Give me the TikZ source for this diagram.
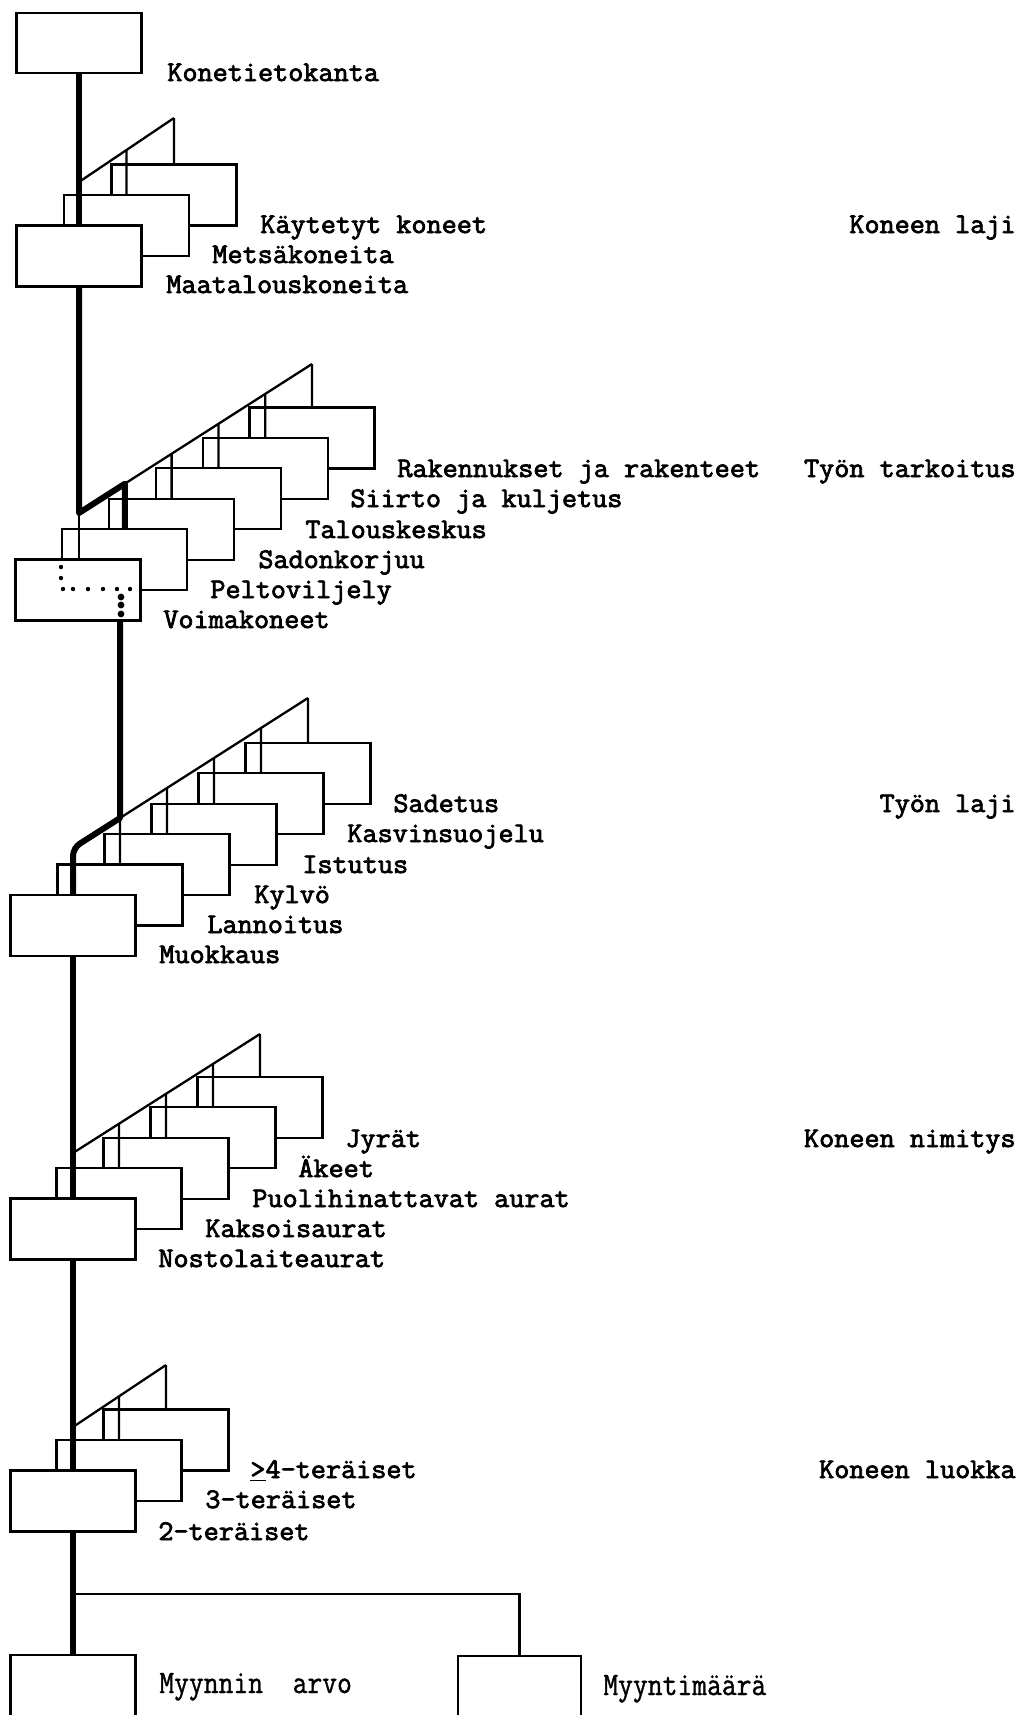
\documentclass[tikz,border=0pt]{standalone}
\usepackage{fontspec}
\newfontfamily\twfont{Latin Modern Mono}[AutoFakeBold=2.6]
\newfontfamily\ftfont{Latin Modern Mono}[AutoFakeBold=1.2]
\newcommand\tx[1]{\scalebox{1}[0.97]{#1}}
\newcommand\ftx[1]{\scalebox{0.98}[1.12]{#1}}
\tikzset{
  card/.style={draw, fill=white, line width=1.15pt, minimum width=62.5pt, minimum height=30.5pt, inner sep=0pt, outer sep=0pt},
  wire/.style={line width=1.15pt},
  spine/.style={line width=3pt, line join=round},
  lab/.style={font=\twfont\bfseries\fontsize{14.67pt}{16pt}\selectfont, inner sep=0pt, anchor=base west},
  head/.style={lab, anchor=base east},
  foot/.style={font=\ftfont\bfseries\fontsize{14.67pt}{16pt}\selectfont, inner sep=0pt, anchor=base west}
}
\newcommand\hang[2]{\draw[wire] (#1.north) -- (intersection of #1.north--#1.south and #2a--#2b);}
\begin{document}
\begin{tikzpicture}[x=0.5pt,y=0.5pt]
\useasboundingbox (0,0) rectangle (1023,-1715);
\clip (0,0) rectangle (1023,-1715);

% ---------- top ----------
\node[card, minimum height=30pt] (top) at (79,-43) {};
\node[lab] (ltop) at (167,-81) {\tx{Konetietokanta}};

% ---------- group 1 : Koneen laji ----------
\coordinate (g1in) at (79,-225.5);
\coordinate (d1a) at (79,-182);
\coordinate (d1b) at (174,-118);
\draw[wire] (d1a) -- (d1b);
\node[card] (g1b3) at (174,-195) {};
\hang{g1b3}{d1}
\node[card] (g1b2) at (126.5,-225.5) {};
\hang{g1b2}{d1}
\draw[spine] (top.south) -- (g1in);
\node[card] (g1b1) at (79,-256) {};
\node[lab] (l13) at (260,-233) {\tx{Käytetyt koneet}};
\node[lab] (l12) at (212,-263) {\tx{Metsäkoneita}};
\node[lab] (l11) at (166,-293) {\tx{Maatalouskoneita}};
\node[head] (h1) at (1016,-233) {\tx{Koneen laji}};

% ---------- group 2 : Työn tarkoitus ----------
\coordinate (d2a) at (79,-513);
\coordinate (d2b) at (312,-364);
\coordinate (g2in) at (79,-559.75);
\draw[wire] (d2a) -- (d2b);
\node[card] (g2b6) at (312,-438) {};
\hang{g2b6}{d2}
\node[card] (g2b5) at (265.2,-468.4) {};
\hang{g2b5}{d2}
\node[card] (g2b4) at (218.4,-498.8) {};
\hang{g2b4}{d2}
\node[card] (g2b3) at (171.6,-529.2) {};
\hang{g2b3}{d2}
\node[card] (g2b2) at (124.8,-559.6) {};
\draw[spine] (g1b1.south) -- (d2a) -- (intersection of g2b2.north--g2b2.south and d2a--d2b) -- (g2b2.north);
\draw[wire] (d2a) -- (g2in);
\node[card] (g2b1) at (78,-590) {};
\foreach \p in {(61,-567),(61,-578),(63,-589),(73,-589),(88,-589),(103,-589),(117,-589),(130,-589)}
  \fill \p circle (1.1pt);
\foreach \p in {(121,-597),(121,-605),(121,-614)}
  \fill \p circle (1.7pt);
\coordinate (g2x) at (120,-620.5);
\node[lab] (l26) at (397,-477) {\tx{Rakennukset ja rakenteet}};
\node[lab] (l25) at (350,-507) {\tx{Siirto ja kuljetus}};
\node[lab] (l24) at (305,-538) {\tx{Talouskeskus}};
\node[lab] (l23) at (258,-568) {\tx{Sadonkorjuu}};
\node[lab] (l22) at (210,-598) {\tx{Peltoviljely}};
\node[lab] (l21) at (163,-628) {\tx{Voimakoneet}};
\node[head] (h2) at (1016,-477) {\tx{Työn tarkoitus}};

% ---------- group 3 : Työn laji ----------
\coordinate (d3a) at (73,-848);
\coordinate (d3b) at (308,-698);
\coordinate (g3in) at (73,-895.25);
\draw[wire] (d3a) -- (d3b);
\node[card] (g3b6) at (308,-773.4) {};
\hang{g3b6}{d3}
\node[card] (g3b5) at (261,-803.8) {};
\hang{g3b5}{d3}
\node[card] (g3b4) at (214,-834.2) {};
\hang{g3b4}{d3}
\node[card] (g3b3) at (167,-864.6) {};
\hang{g3b3}{d3}
\node[card] (g3b2) at (120,-895) {};
\coordinate (j3) at (intersection of g3b2.north--g3b2.south and d3a--d3b);
\draw[wire] (j3) -- (g3b2.north);
\draw[spine] (g2x) -- (j3) [rounded corners=4pt] -- (d3a) -- (g3in);
\node[card] (g3b1) at (73,-925.5) {};
\node[lab] (l36) at (393,-812) {\tx{Sadetus}};
\node[lab] (l35) at (347,-842) {\tx{Kasvinsuojelu}};
\node[lab] (l34) at (302,-873) {\tx{Istutus}};
\node[lab] (l33) at (254,-903) {\tx{Kylvö}};
\node[lab] (l32) at (207,-933) {\tx{Lannoitus}};
\node[lab] (l31) at (159,-963) {\tx{Muokkaus}};
\node[head] (h3) at (1016,-812) {\tx{Työn laji}};

% ---------- group 4 : Koneen nimitys ----------
\coordinate (d4a) at (73,-1153);
\coordinate (d4b) at (260,-1034);
\coordinate (g4in) at (73,-1198.75);
\draw[wire] (d4a) -- (d4b);
\node[card] (g4b5) at (260,-1107.4) {};
\hang{g4b5}{d4}
\node[card] (g4b4) at (213,-1137.8) {};
\hang{g4b4}{d4}
\node[card] (g4b3) at (166,-1168.2) {};
\hang{g4b3}{d4}
\node[card] (g4b2) at (119,-1198.6) {};
\hang{g4b2}{d4}
\draw[spine] (g3b1.south) -- (g4in);
\node[card] (g4b1) at (73,-1229) {};
\node[lab] (l45) at (345,-1147) {\tx{Jyrät}};
\node[lab] (l44) at (298,-1177) {\tx{Äkeet}};
\node[lab] (l43) at (252,-1207) {\tx{Puolihinattavat aurat}};
\node[lab] (l42) at (205,-1237) {\tx{Kaksoisaurat}};
\node[lab] (l41) at (158,-1267) {\tx{Nostolaiteaurat}};
\node[head] (h4) at (1016,-1147) {\tx{Koneen nimitys}};

% ---------- group 5 : Koneen luokka ----------
\coordinate (d5a) at (73,-1427);
\coordinate (d5b) at (166,-1365);
\coordinate (g5in) at (73,-1470.75);
\draw[wire] (d5a) -- (d5b);
\node[card] (g5b3) at (166,-1440) {};
\hang{g5b3}{d5}
\node[card] (g5b2) at (119,-1470.5) {};
\hang{g5b2}{d5}
\draw[spine] (g4b1.south) -- (g5in);
\node[card] (g5b1) at (73,-1501) {};
\node[lab] (l53) at (250,-1478) {\tx{\underline{>}4-teräiset}};
\node[lab] (l52) at (205,-1508) {\tx{3-teräiset}};
\node[lab] (l51) at (158,-1540) {\tx{2-teräiset}};
\node[head] (h5) at (1016,-1478) {\tx{Koneen luokka}};

% ---------- bottom ----------
\node[card, minimum height=60pt] (arvo) at (73,-1715) {};
\node[card, minimum width=61.5pt, minimum height=60pt] (maara) at (519.5,-1716) {};
\coordinate (split) at (73,-1594);
\draw[spine] (g5b1.south) -- (arvo.north);
\draw[wire] (split) -| (maara.north);
\node[foot] (larvo) at (159,-1693) {\ftx{Myynnin\ \ arvo}};
\node[foot] (lmaara) at (603,-1695) {\ftx{Myyntimäärä}};
\end{tikzpicture}
\end{document}
